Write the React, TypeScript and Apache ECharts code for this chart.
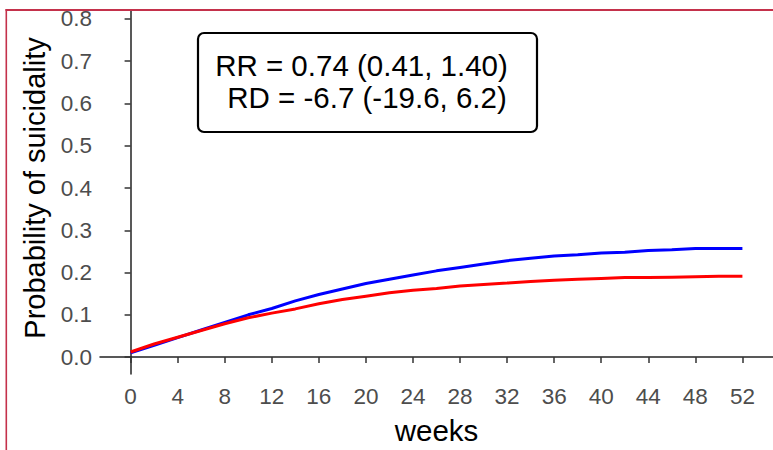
import React, { useEffect, useRef } from "react";
import * as echarts from "echarts";

// Follow-up time points (weeks)
const weeks: number[] = [0, 2, 4, 6, 8, 10, 12, 14, 16, 18, 20, 22, 24, 26, 28, 30, 32, 34, 36, 38, 40, 42, 44, 46, 48, 50, 52];

// Cumulative probability of suicidality, two treatment arms
const blueArm: number[] = [0.010, 0.028, 0.046, 0.064, 0.082, 0.100, 0.115, 0.133, 0.148, 0.161, 0.174, 0.184, 0.194, 0.204, 0.212, 0.220, 0.228, 0.234, 0.239, 0.242, 0.246, 0.248, 0.252, 0.254, 0.257, 0.257, 0.257];
const redArm: number[] = [0.012, 0.031, 0.047, 0.063, 0.079, 0.093, 0.104, 0.114, 0.126, 0.136, 0.144, 0.152, 0.158, 0.162, 0.168, 0.172, 0.175, 0.179, 0.182, 0.184, 0.186, 0.188, 0.188, 0.189, 0.190, 0.191, 0.191];

const xTicks: number[] = [0, 4, 8, 12, 16, 20, 24, 28, 32, 36, 40, 44, 48, 52];
const yTicks: number[] = [0, 0.1, 0.2, 0.3, 0.4, 0.5, 0.6, 0.7, 0.8];

const annotationLines: string[] = ["RR = 0.74 (0.41, 1.40)", "RD = -6.7 (-19.6, 6.2)"];

const FONT = "'Liberation Sans', Arial, sans-serif";

export default function App() {
  const ref = useRef<HTMLDivElement>(null);

  useEffect(() => {
    if (!ref.current) return;
    const chart = echarts.init(ref.current, undefined, { renderer: "svg" });

    const toPairs = (vals: number[]) => weeks.map((w, i) => [w, vals[i]]);

    chart.setOption({
      animation: false,
      backgroundColor: "#ffffff",
      grid: { left: 100, top: 2, width: 678, height: 375, containLabel: false },
      xAxis: {
        type: "value",
        min: -2.6,
        max: 54.6,
        name: "weeks",
        nameLocation: "middle",
        nameGap: 41,
        nameTextStyle: { fontFamily: FONT, fontSize: 29.5, color: "#000000" },
        splitLine: { show: false },
        axisLine: { show: true, lineStyle: { color: "#222222", width: 1.5 } },
        axisTick: { show: true, length: 6, customValues: xTicks, lineStyle: { color: "#333333", width: 1.5 } },
        axisLabel: {
          customValues: xTicks,
          margin: 11,
          fontFamily: FONT,
          fontSize: 22.5,
          color: "#4d4d4d",
        },
      },
      yAxis: {
        type: "value",
        min: -0.04,
        max: 0.84,
        name: "Probability of suicidality",
        nameLocation: "middle",
        nameRotate: 90,
        nameGap: 44,
        nameTextStyle: { fontFamily: FONT, fontSize: 29, color: "#000000" },
        splitLine: { show: false },
        axisLine: { show: true, lineStyle: { color: "#222222", width: 1.5 } },
        axisTick: { show: true, length: 6, customValues: yTicks, lineStyle: { color: "#333333", width: 1.5 } },
        axisLabel: {
          customValues: yTicks,
          margin: 8,
          fontFamily: FONT,
          fontSize: 22.5,
          color: "#4d4d4d",
          formatter: (v: number) => v.toFixed(1),
        },
      },
      series: [
        {
          type: "line",
          data: toPairs(blueArm),
          showSymbol: false,
          lineStyle: { color: "#0000ff", width: 3 },
          itemStyle: { color: "#0000ff" },
          z: 2,
        },
        {
          type: "line",
          data: toPairs(redArm),
          showSymbol: false,
          lineStyle: { color: "#ff0000", width: 3 },
          itemStyle: { color: "#ff0000" },
          z: 3,
        },
      ],
      graphic: [
        {
          type: "rect",
          shape: { x: 198, y: 33, width: 339, height: 99, r: 6 },
          style: { fill: "#ffffff", stroke: "#000000", lineWidth: 2.2 },
          z: 10,
        },
        {
          type: "text",
          x: 361.5,
          y: 65,
          style: {
            text: annotationLines[0],
            fontFamily: FONT,
            fontSize: 29.5,
            fill: "#000000",
            align: "center",
            verticalAlign: "middle",
          },
          z: 11,
        },
        {
          type: "text",
          x: 367,
          y: 97,
          style: {
            text: annotationLines[1],
            fontFamily: FONT,
            fontSize: 29.5,
            fill: "#000000",
            align: "center",
            verticalAlign: "middle",
          },
          z: 11,
        },
        // Frame: blank margin strip above and to the left, then the crimson edge lines
        {
          type: "rect",
          shape: { x: 0, y: 0, width: 773, height: 9 },
          style: { fill: "#ffffff" },
          z: 20,
        },
        {
          type: "rect",
          shape: { x: 0, y: 0, width: 5.5, height: 450 },
          style: { fill: "#ffffff" },
          z: 20,
        },
        {
          type: "line",
          shape: { x1: 5.5, y1: 10, x2: 773, y2: 10 },
          style: { stroke: "#c4314b", lineWidth: 2 },
          z: 21,
        },
        {
          type: "line",
          shape: { x1: 6.3, y1: 9, x2: 6.3, y2: 450 },
          style: { stroke: "#c4314b", lineWidth: 1.6 },
          z: 21,
        },
      ],
    });

    return () => chart.dispose();
  }, []);

  return (
    <div
      ref={ref}
      style={{ position: "fixed", left: 0, top: 0, width: 773, height: 450 }}
    />
  );
}
